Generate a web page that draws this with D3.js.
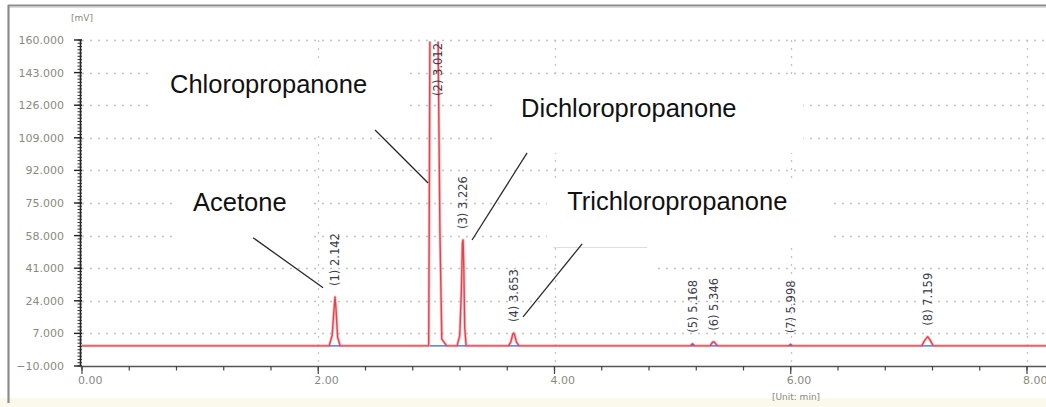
<!DOCTYPE html>
<html>
<head>
<meta charset="utf-8">
<script src="https://cdn.jsdelivr.net/npm/d3@7"></script>
<style>
  html, body { margin: 0; padding: 0; background: #ffffff; }
  svg { display: block; }
</style>
</head>
<body>
<svg id="chart" width="1046" height="407"></svg>
<script>
// ---- Chromatogram data -------------------------------------------------
// Axis ticks
const yTickValues = [-10, 7, 24, 41, 58, 75, 92, 109, 126, 143, 160];
const xMajorTicks = [0, 2, 4, 6, 8];
const xMinorStep = 0.4;

// Integrated peaks
const peakIds = [1, 2, 3, 4, 5, 6, 7, 8];
const retentionTimes = [2.142, 3.012, 3.226, 3.653, 5.168, 5.346, 5.998, 7.159];
const peakHeights = [26.0, 180.0, 55.7, 7.2, 1.6, 2.6, 1.3, 5.3]; // mV at apex; peak 2 saturates above scale
const baselineLevel = 0.5;

// Detector trace, [time (min), signal (mV)]
const tracePoints = [
  [0.000, 0.5],
  [2.092, 0.5], [2.118, 6.0], [2.134, 20.0], [2.142, 26.0], [2.150, 20.0], [2.164, 5.0], [2.186, 0.5],
  [2.935, 0.5], [2.941, 90.0], [2.946, 175.0], [3.012, 180.0], [3.016, 150.0], [3.030, 60.0], [3.046, 4.0], [3.088, 0.5],
  [3.175, 0.5], [3.198, 6.0], [3.212, 30.0], [3.220, 54.0], [3.226, 55.7], [3.232, 42.0], [3.240, 10.0], [3.252, 0.5],
  [3.610, 0.5], [3.630, 2.5], [3.646, 6.5], [3.653, 7.2], [3.661, 6.5], [3.678, 2.5], [3.700, 0.5],
  [5.150, 0.5], [5.168, 1.6], [5.186, 0.5],
  [5.315, 0.5], [5.340, 2.5], [5.346, 2.6], [5.352, 2.5], [5.380, 0.5],
  [5.982, 0.5], [5.998, 1.3], [6.014, 0.5],
  [7.108, 0.5], [7.135, 3.5], [7.159, 5.3], [7.180, 3.5], [7.206, 0.5],
  [8.300, 0.5]
];

// Integration baselines (start, end) per peak
const peakStarts = [2.095, 2.945, 3.180, 3.615, 5.155, 5.320, 5.985, 7.110];
const peakEnds   = [2.185, 3.085, 3.250, 3.695, 5.182, 5.375, 6.010, 7.200];

// Compound annotations: text anchor and pointer, in data units
const annotationNames = ["Chloropropanone", "Dichloropropanone", "Acetone", "Trichloropropanone"];
const annotationTextAt = [[0.745, 132.4], [3.717, 119.9], [0.940, 70.8], [4.107, 71.4]];
const annotationPointerFrom = [[2.481, 113.1], [3.768, 101.1], [1.448, 56.9], [4.234, 53.7]];
const annotationPointerTo = [[2.930, 85.4], [3.302, 55.7], [2.041, 30.8], [3.734, 15.6]];
// White label panels: [t0, t1, vTop, vBottom]
const annotationPanels = [
  [0.559, 2.752, 149.6, 112.6],
  [3.522, 6.105, 139.1, 101.1],
  [0.771, 1.956, 87.0, 53.1],
  [3.937, 6.334, 88.0, 52.1],
  [4.022, 4.869, 51.0, 32.2]
];

// ---- Layout ------------------------------------------------------------
const W = 1046, H = 407;
const svg = d3.select("#chart");

const x = d3.scaleLinear().domain([0, 8]).range([82, 1027]);
const y = d3.scaleLinear().domain([-10, 160]).range([366, 40]);

const axisColor = "#8a8a7e";
const gridColor = "#c4c4c4";
const traceColor = "#e5424e";

// Window frame
svg.append("rect").attr("x", 0).attr("y", 0).attr("width", W).attr("height", H).attr("fill", "#ffffff");
svg.append("rect").attr("x", 0).attr("y", 398).attr("width", W).attr("height", H - 398).attr("fill", "#fbf8ec");
svg.append("line").attr("x1", 8).attr("x2", W).attr("y1", 5.5).attr("y2", 5.5)
  .attr("stroke", "#8c8c8c").attr("stroke-width", 2.2);
svg.append("line").attr("x1", 9).attr("x2", W).attr("y1", 7.5).attr("y2", 7.5)
  .attr("stroke", "#dcdcdc").attr("stroke-width", 1);
svg.append("line").attr("x1", 8.5).attr("x2", 8.5).attr("y1", 5).attr("y2", 403)
  .attr("stroke", "#8c8c8c").attr("stroke-width", 2.2);

// Grid
const grid = svg.append("g").attr("class", "grid");
grid.selectAll("line.h").data(yTickValues.filter(v => v > -10)).join("line")
  .attr("class", "h")
  .attr("x1", x(0)).attr("x2", W)
  .attr("y1", d => Math.round(y(d)) + 0.5).attr("y2", d => Math.round(y(d)) + 0.5)
  .attr("stroke", gridColor).attr("stroke-width", 1.3)
  .attr("stroke-dasharray", "2,6");
grid.selectAll("line.v").data(xMajorTicks.filter(t => t > 0)).join("line")
  .attr("class", "v")
  .attr("x1", d => Math.round(x(d)) + 0.5).attr("x2", d => Math.round(x(d)) + 0.5)
  .attr("y1", y(160)).attr("y2", y(-10))
  .attr("stroke", gridColor).attr("stroke-width", 1.3)
  .attr("stroke-dasharray", "2,6");

// White panels behind the compound names
svg.append("g").selectAll("rect").data(annotationPanels).join("rect")
  .attr("x", d => x(d[0])).attr("y", d => y(d[2]))
  .attr("width", d => x(d[1]) - x(d[0])).attr("height", d => y(d[3]) - y(d[2]))
  .attr("fill", "#ffffff");
// faint top edge of the lower panel
{
  const p = annotationPanels[4];
  svg.append("line").attr("x1", x(p[0]) - 4).attr("x2", x(p[1]) - 10)
    .attr("y1", y(p[2]) - 1.5).attr("y2", y(p[2]) - 1.5)
    .attr("stroke", "#dedede").attr("stroke-width", 1.2);
}

// Y axis
const yMinor = d3.range(-10, 160.01, 1.7);
const yAxisG = svg.append("g").attr("class", "y-axis");
yAxisG.append("line").attr("x1", 80.5).attr("x2", 80.5).attr("y1", y(160)).attr("y2", y(-10))
  .attr("stroke", "#222").attr("stroke-width", 1.6);
yAxisG.selectAll("line.minor").data(yMinor).join("line").attr("class", "minor")
  .attr("x1", 77.5).attr("x2", 82).attr("y1", d => y(d)).attr("y2", d => y(d))
  .attr("stroke", "#333").attr("stroke-width", 1);
yAxisG.selectAll("line.major").data(yTickValues).join("line").attr("class", "major")
  .attr("x1", 74).attr("x2", 82).attr("y1", d => y(d)).attr("y2", d => y(d))
  .attr("stroke", "#222").attr("stroke-width", 1.4);
yAxisG.selectAll("text").data(yTickValues).join("text")
  .attr("x", 64).attr("y", d => y(d)).attr("dy", "0.36em")
  .attr("text-anchor", "end")
  .attr("font-family", "DejaVu Sans, sans-serif").attr("font-size", 11)
  .attr("fill", axisColor)
  .text(d => d3.format(".3f")(d));
svg.append("text").attr("x", 82).attr("y", 21).attr("text-anchor", "middle")
  .attr("font-family", "DejaVu Sans, sans-serif").attr("font-size", 9)
  .attr("fill", axisColor).text("[mV]");

// X axis
const xMinor = d3.range(0, 8.001, xMinorStep);
const xAxisG = svg.append("g").attr("class", "x-axis");
xAxisG.append("line").attr("x1", 80).attr("x2", W).attr("y1", 366.5).attr("y2", 366.5)
  .attr("stroke", "#555").attr("stroke-width", 1.6);
xAxisG.selectAll("line.minor").data(xMinor).join("line").attr("class", "minor")
  .attr("x1", d => x(d)).attr("x2", d => x(d)).attr("y1", 366).attr("y2", 370.5)
  .attr("stroke", "#444").attr("stroke-width", 1.2);
xAxisG.selectAll("line.major").data(xMajorTicks).join("line").attr("class", "major")
  .attr("x1", d => x(d)).attr("x2", d => x(d)).attr("y1", 366).attr("y2", 374)
  .attr("stroke", "#444").attr("stroke-width", 1.2);
xAxisG.selectAll("text").data(xMajorTicks).join("text")
  .attr("x", d => x(d) - 4).attr("y", 384)
  .attr("font-family", "DejaVu Sans, sans-serif").attr("font-size", 11)
  .attr("fill", axisColor)
  .text(d => d3.format(".2f")(d));
svg.append("text").attr("x", 796).attr("y", 400).attr("text-anchor", "middle")
  .attr("font-family", "DejaVu Sans, sans-serif").attr("font-size", 9)
  .attr("fill", axisColor).text("[Unit: min]");

// Trace
svg.append("clipPath").attr("id", "plotClip")
  .append("rect").attr("x", 79).attr("y", y(160) + 1.5).attr("width", W - 79).attr("height", y(-10) - y(160));
const line = d3.line().x(d => x(d[0])).y(d => y(d[1]));
const traceG = svg.append("g").attr("clip-path", "url(#plotClip)");
traceG.append("path").datum(tracePoints).attr("d", line)
  .attr("fill", "none").attr("stroke", "#f4a9ae").attr("stroke-width", 3)
  .attr("stroke-linejoin", "round").attr("opacity", 0.7);
traceG.append("path").datum(tracePoints).attr("d", line)
  .attr("fill", "none").attr("stroke", traceColor).attr("stroke-width", 1.4)
  .attr("stroke-linejoin", "round");

// Integration baselines
svg.append("g").selectAll("line").data(peakIds.map((id, i) => [peakStarts[i], peakEnds[i]])).join("line")
  .attr("x1", d => x(d[0])).attr("x2", d => x(d[1]))
  .attr("y1", y(baselineLevel)).attr("y2", y(baselineLevel))
  .attr("stroke", "#4a72e6").attr("stroke-width", 1.4);

// Peak labels (rotated), placed above each apex, kept inside the plot
const labelG = svg.append("g");
peakIds.forEach((id, i) => {
  const t = labelG.append("text")
    .attr("font-family", "DejaVu Sans, sans-serif").attr("font-size", 11.5)
    .attr("fill", "#3c3c4c")
    .attr("dy", "0.36em")
    .text(`(${id}) ${d3.format(".3f")(retentionTimes[i])}`);
  const len = t.node().getComputedTextLength();
  const startY = Math.max(y(Math.min(peakHeights[i], 160)) - 11, y(160) + 3 + len);
  t.attr("transform", `translate(${x(retentionTimes[i])},${startY}) rotate(-90)`);
});

// Compound annotations
const annG = svg.append("g");
annotationNames.forEach((name, i) => {
  annG.append("line")
    .attr("x1", x(annotationPointerFrom[i][0])).attr("y1", y(annotationPointerFrom[i][1]))
    .attr("x2", x(annotationPointerTo[i][0])).attr("y2", y(annotationPointerTo[i][1]))
    .attr("stroke", "#2a2a2a").attr("stroke-width", 1.3);
  annG.append("text")
    .attr("x", x(annotationTextAt[i][0])).attr("y", y(annotationTextAt[i][1]))
    .attr("font-family", "Liberation Sans, Arial, sans-serif").attr("font-size", 25.5)
    .attr("fill", "#111")
    .text(name);
});
</script>
</body>
</html>
